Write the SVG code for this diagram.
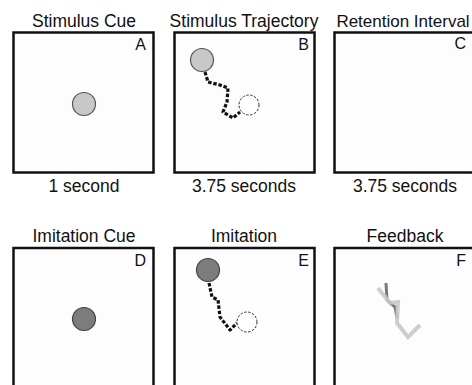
<svg xmlns="http://www.w3.org/2000/svg" width="472" height="385" viewBox="0 0 472 385">
<style>
text{font-family:"Liberation Sans",Arial,sans-serif;fill:#111}
.t{font-size:17.5px;text-anchor:middle}
.l{font-size:16px;text-anchor:end}
.box{fill:#fdfdfd;stroke:#111;stroke-width:2.5}
.traj{fill:none;stroke:#111;stroke-width:3.2;stroke-dasharray:3.5 1.8;stroke-linejoin:round}
.ghost{fill:#fff;stroke:#333;stroke-width:1;stroke-dasharray:2.5 1.5}
</style>
<rect width="472" height="385" fill="#fff"/>
<g id="panelA">
<text class="t" x="84" y="27">Stimulus Cue</text>
<rect class="box" x="13.5" y="32.5" width="140" height="140"/>
<text class="l" x="146" y="50">A</text>
<circle cx="84" cy="104" r="11.5" fill="#c8c8c8" stroke="#555" stroke-width="1.2"/>
<text class="t" x="84" y="192">1 second</text>
</g>
<g id="panelB">
<text class="t" x="244" y="27">Stimulus Trajectory</text>
<rect class="box" x="174.5" y="32.5" width="140" height="140"/>
<text class="l" x="309" y="50">B</text>
<circle cx="202" cy="60" r="11.5" fill="#c8c8c8" stroke="#555" stroke-width="1.2"/>
<path class="traj" d="M205 72 L208 82 L220 85 L228 88 L227 102 L223 112 L233 118 L240 112"/>
<circle class="ghost" cx="249" cy="105" r="10"/>
<text class="t" x="244" y="192">3.75 seconds</text>
</g>
<g id="panelC">
<text class="t" x="403" y="27" style="font-size:17px">Retention Interval</text>
<rect class="box" x="334.5" y="32.5" width="140" height="140"/>
<text class="l" x="466" y="49">C</text>
<text class="t" x="405" y="192">3.75 seconds</text>
</g>
<g id="panelD">
<text class="t" x="84" y="242">Imitation Cue</text>
<rect class="box" x="13.5" y="248" width="140" height="150"/>
<text class="l" x="146" y="266">D</text>
<circle cx="84" cy="319" r="11.5" fill="#7c7c7c" stroke="#444" stroke-width="1.2"/>
</g>
<g id="panelE">
<text class="t" x="244" y="242">Imitation</text>
<rect class="box" x="174.5" y="248" width="140" height="150"/>
<text class="l" x="309" y="266">E</text>
<circle cx="208" cy="270" r="11.5" fill="#7c7c7c" stroke="#444" stroke-width="1.2"/>
<path class="traj" d="M209 283 L212 297 L218 300 L220 317 L230 330 L237 323"/>
<circle class="ghost" cx="247" cy="322" r="10"/>
</g>
<g id="panelF">
<text class="t" x="405" y="242">Feedback</text>
<rect class="box" x="334.5" y="248" width="140" height="150"/>
<text class="l" x="466" y="266">F</text>
<polyline points="386,283 387,300 395,307 397,318" fill="none" stroke="#7a7a7a" stroke-width="3"/>
<polyline points="378,288 390,303 398,302 397,323 408,337 420,325" fill="none" stroke="#c8c8c8" stroke-width="4" stroke-opacity="0.9"/>
</g>
<g id="connectors"></g>
</svg>
